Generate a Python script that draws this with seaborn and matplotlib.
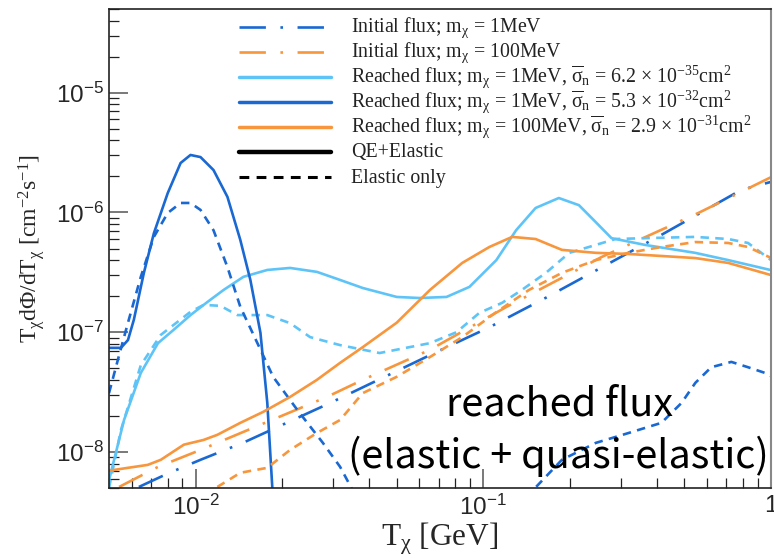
import numpy as np
import pandas as pd
import matplotlib
matplotlib.use("Agg")
import matplotlib.pyplot as plt
import seaborn as sns
from matplotlib.ticker import LogLocator, FuncFormatter, NullFormatter
from matplotlib.lines import Line2D

# ---------------- data ----------------
# Initial flux, m_chi = 1 MeV
init1_x = [0.00635, 0.0080, 0.0104, 0.0147, 0.0294, 0.0667, 0.105, 0.165, 0.416, 0.787, 1.0]
init1_y = [5.1e-9, 6.6e-9, 8.6e-9, 1.2e-8, 2.57e-8, 6.6e-8, 1.1e-7, 1.94e-7, 6.5e-7, 1.54e-6, 1.8e-6]

# Initial flux, m_chi = 100 MeV
init100_x = [0.00542, 0.0074, 0.0104, 0.01465, 0.0286, 0.0381, 0.065, 0.12, 0.258, 0.559, 1.0]
init100_y = [5.1e-9, 7.5e-9, 1.04e-8, 1.47e-8, 2.88e-8, 4.0e-8, 7.1e-8, 1.62e-7, 4.25e-7, 9.9e-7, 1.97e-6]

# Reached flux, 1 MeV, sigma = 6.2e-35 (QE+Elastic)
lb_x = [0.0050, 0.00564, 0.00645, 0.0074, 0.0084, 0.0096, 0.011, 0.0125, 0.01466, 0.01775,
        0.0213, 0.0264, 0.0318, 0.0381, 0.050, 0.060, 0.0745, 0.0895, 0.111, 0.130,
        0.152, 0.183, 0.215, 0.246, 0.279, 0.366, 0.545, 0.71, 1.0]
lb_y = [5.8e-9, 1.85e-8, 4.57e-8, 8.1e-8, 1.05e-7, 1.39e-7, 1.79e-7, 2.25e-7, 2.9e-7, 3.31e-7,
        3.44e-7, 3.19e-7, 2.73e-7, 2.34e-7, 1.97e-7, 1.93e-7, 1.97e-7, 2.39e-7, 4.0e-7, 7.1e-7,
        1.09e-6, 1.32e-6, 1.15e-6, 8.3e-7, 6.1e-7, 5.35e-7, 4.6e-7, 4.0e-7, 3.3e-7]

# Reached flux, 1 MeV, sigma = 6.2e-35 (Elastic only)
lbd_x = [0.0050, 0.0055, 0.00645, 0.00757, 0.0096, 0.01066, 0.0122, 0.01397, 0.01775, 0.0213,
         0.025, 0.0318, 0.0436, 0.0652, 0.0807, 0.0969, 0.1163, 0.136, 0.165, 0.199,
         0.233, 0.288, 0.366, 0.545, 0.71, 0.832, 1.0]
lbd_y = [5.0e-9, 1.52e-8, 5.3e-8, 9.5e-8, 1.48e-7, 1.69e-7, 1.66e-7, 1.39e-7, 1.39e-7, 1.19e-7,
         9.1e-8, 7.8e-8, 6.7e-8, 8.1e-8, 1.0e-7, 1.45e-7, 1.76e-7, 2.25e-7, 3.13e-7, 4.6e-7,
         5.15e-7, 6.0e-7, 6.1e-7, 6.25e-7, 6.0e-7, 5.56e-7, 4.0e-7]

# Reached flux, 1 MeV, sigma = 5.3e-32 (QE+Elastic)
db_x = [0.0050, 0.0055, 0.00582, 0.0061, 0.00661, 0.00716, 0.0080, 0.00887, 0.0096, 0.0104,
        0.01154, 0.0129, 0.0143, 0.0155, 0.0168, 0.01775, 0.01847, 0.0190]
db_y = [7.4e-8, 7.4e-8, 8.6e-8, 1.27e-7, 3.13e-7, 6.7e-7, 1.45e-6, 2.59e-6, 3.02e-6, 2.9e-6,
        2.26e-6, 1.35e-6, 5.9e-7, 2.73e-7, 9.9e-8, 2.57e-8, 5.1e-9, 3.0e-9]

# Reached flux, 1 MeV, sigma = 5.3e-32 (Elastic only) -- two visible pieces
dbd1_x = [0.0050, 0.00537, 0.00582, 0.00645, 0.00716, 0.0080, 0.00887, 0.0096, 0.0104, 0.01154,
          0.0129, 0.0143, 0.0164, 0.0186, 0.02255, 0.0277, 0.0318, 0.0358]
dbd1_y = [3.1e-8, 5.9e-8, 1.2e-7, 2.9e-7, 6.25e-7, 9.9e-7, 1.2e-6, 1.2e-6, 1.05e-6, 7.1e-7,
          3.5e-7, 1.63e-7, 8.1e-8, 4.24e-8, 2.25e-8, 1.19e-8, 7.5e-9, 4.4e-9]
dbd2_x = [0.144, 0.1525, 0.1876, 0.246, 0.32, 0.416, 0.489, 0.546, 0.62, 0.728, 0.832, 0.953, 1.0]
dbd2_y = [4.0e-9, 5.1e-9, 8.6e-9, 1.19e-8, 1.44e-8, 1.75e-8, 2.57e-8, 3.78e-8, 5.1e-8, 5.65e-8,
          5.1e-8, 4.57e-8, 4.3e-8]

# Reached flux, 100 MeV, sigma = 2.9e-31 (QE+Elastic)
or_x = [0.0050, 0.00582, 0.00682, 0.00757, 0.0091, 0.01066, 0.0119, 0.0143, 0.01717, 0.0213,
        0.0264, 0.0318, 0.0381, 0.050, 0.0652, 0.0845, 0.105, 0.126, 0.152, 0.1876,
        0.246, 0.32, 0.416, 0.546, 0.71, 1.0]
or_y = [6.97e-9, 7.37e-9, 7.8e-9, 8.6e-9, 1.15e-8, 1.26e-8, 1.39e-8, 1.75e-8, 2.16e-8, 2.88e-8,
        4.0e-8, 5.55e-8, 7.5e-8, 1.2e-7, 2.25e-7, 3.79e-7, 5.15e-7, 6.25e-7, 6.0e-7, 4.87e-7,
        4.6e-7, 4.5e-7, 4.33e-7, 4.16e-7, 3.79e-7, 3.0e-7]

# Reached flux, 100 MeV, sigma = 2.9e-31 (Elastic only)
ord_x = [0.0119, 0.0143, 0.01775, 0.0213, 0.0264, 0.0318, 0.0381, 0.050, 0.0652, 0.0845,
         0.110, 0.144, 0.1876, 0.246, 0.32, 0.416, 0.546, 0.71, 0.832, 1.0]
ord_y = [5.1e-9, 6.7e-9, 7.37e-9, 1.04e-8, 1.44e-8, 1.85e-8, 3.1e-8, 4.24e-8, 6.2e-8, 9.1e-8,
         1.45e-7, 2.25e-7, 3.13e-7, 4.0e-7, 4.6e-7, 5.15e-7, 5.66e-7, 5.56e-7, 5.15e-7, 4.17e-7]

legend_labels = [
    r"Initial flux; m$_{\mathrm{\chi}}$ = 1MeV",
    r"Initial flux; m$_{\mathrm{\chi}}$ = 100MeV",
    r"Reached flux; m$_{\mathrm{\chi}}$ = 1MeV, $\overline{\mathrm{\sigma}}_{\mathrm{n}}$ = 6.2 $\times$ 10$^{\mathrm{-35}}$cm$^{\mathrm{2}}$",
    r"Reached flux; m$_{\mathrm{\chi}}$ = 1MeV, $\overline{\mathrm{\sigma}}_{\mathrm{n}}$ = 5.3 $\times$ 10$^{\mathrm{-32}}$cm$^{\mathrm{2}}$",
    r"Reached flux; m$_{\mathrm{\chi}}$ = 100MeV, $\overline{\mathrm{\sigma}}_{\mathrm{n}}$ = 2.9 $\times$ 10$^{\mathrm{-31}}$cm$^{\mathrm{2}}$",
    "QE+Elastic",
    "Elastic only",
]
annotation_lines = ["reached flux", "(elastic + quasi-elastic)"]

# ---------------- style ----------------
sns.set_style("ticks")
plt.rcParams.update({
    "font.family": ["Liberation Sans", "DejaVu Sans"],
    "mathtext.fontset": "custom",
    "mathtext.rm": "Liberation Serif",
    "mathtext.it": "Liberation Serif:italic",
    "mathtext.bf": "Liberation Serif:bold",
    "mathtext.sf": "Liberation Sans",
})

DB = "#1a68d2"
LB = "#5ec4f7"
OR = "#f7963c"
LW = 1.9
DASHDOT = (0, (10, 5.5, 1.0, 5.5))
DASHED = (0, (3.2, 2.4))

W, H = 774, 558
fig = plt.figure(figsize=(W / 100, H / 100), dpi=100)
ax = fig.add_axes([109 / W, 1 - 488 / H, (771 - 109) / W, (488 - 9) / H])


def draw(xs, ys, color, ls, lw=LW):
    df = pd.DataFrame({"x": xs, "y": ys})
    sns.lineplot(data=df, x="x", y="y", ax=ax, color=color, linewidth=lw,
                 linestyle=ls, sort=False, estimator=None, legend=False)


draw(init1_x, init1_y, DB, DASHDOT)
draw(init100_x, init100_y, OR, DASHDOT)
draw(lbd_x, lbd_y, LB, DASHED)
draw(lb_x, lb_y, LB, "-")
draw(dbd1_x, dbd1_y, DB, DASHED)
draw(dbd2_x, dbd2_y, DB, DASHED)
draw(db_x, db_y, DB, "-")
draw(ord_x, ord_y, OR, DASHED)
draw(or_x, or_y, OR, "-")

ax.set_xscale("log")
ax.set_yscale("log")
ax.set_xlim(5e-3, 1.0)
ax.set_ylim(5e-9, 5e-5)


def fmt(v, pos):
    e = int(round(np.log10(v)))
    if e == 0:
        return r"$\mathsf{1}$"
    return r"$\mathsf{10^{%d}}$" % e


ax.xaxis.set_major_locator(LogLocator(base=10, numticks=10))
ax.yaxis.set_major_locator(LogLocator(base=10, numticks=10))
ax.xaxis.set_minor_locator(LogLocator(base=10, subs=np.arange(2, 10), numticks=20))
ax.yaxis.set_minor_locator(LogLocator(base=10, subs=np.arange(2, 10), numticks=20))
ax.xaxis.set_major_formatter(FuncFormatter(fmt))
ax.yaxis.set_major_formatter(FuncFormatter(fmt))
ax.xaxis.set_minor_formatter(NullFormatter())
ax.yaxis.set_minor_formatter(NullFormatter())
ax.tick_params(which="major", direction="in", length=14, width=1.1, color="#555555",
               labelsize=17.5, pad=5, top=False, right=False)
ax.tick_params(which="minor", direction="in", length=7, width=0.9, color="#222222",
               top=False, right=False)
ax.tick_params(axis="y", which="major", pad=4)
for s in ["left", "bottom", "top"]:
    ax.spines[s].set_color("#222222")
    ax.spines[s].set_linewidth(1.2)
ax.spines["right"].set_color("#888888")
ax.spines["right"].set_linewidth(1.5)

ax.set_xlabel(r"T$_{\mathrm{\chi}}$ [GeV]", family="Liberation Serif", fontsize=22.5, labelpad=0)
ax.set_ylabel(r"T$_{\mathrm{\chi}}$d$\mathrm{\Phi}$/dT$_{\mathrm{\chi}}$ [cm$^{\mathrm{-2}}$s$^{\mathrm{-1}}$]",
              family="Liberation Serif", fontsize=17, labelpad=6)

# ---- legend (drawn row by row for exact, uniform spacing) ----
handles = [
    dict(color=DB, lw=LW, linestyle=DASHDOT),
    dict(color=OR, lw=LW, linestyle=DASHDOT),
    dict(color=LB, lw=LW + 0.6, linestyle="-"),
    dict(color=DB, lw=LW + 0.6, linestyle="-"),
    dict(color=OR, lw=LW + 0.6, linestyle="-"),
    dict(color="black", lw=3.2, linestyle="-"),
    dict(color="black", lw=2.2, linestyle=DASHED),
]
row0, dy = 26.5, 25.1
for i, (hk, lab) in enumerate(zip(handles, legend_labels)):
    yc = row0 + i * dy
    fig.add_artist(Line2D([239 / W, 331 / W], [1 - yc / H, 1 - yc / H],
                          transform=fig.transFigure, **hk))
    fig.text(351 / W, 1 - (yc + 5.5) / H, lab, ha="left", va="baseline",
             family="Liberation Serif", fontsize=14.3, color="#222222")

fig.text(560 / W, 1 - 415 / H, annotation_lines[0], ha="center", va="baseline",
         fontsize=28.5, fontweight="light", family=["Noto Sans CJK SC", "DejaVu Sans"],
         color="black")
fig.text(558 / W, 1 - 468 / H, annotation_lines[1], ha="center", va="baseline",
         fontsize=28.5, fontweight="light", family=["Noto Sans CJK SC", "DejaVu Sans"],
         color="black")

fig.savefig("out.png", dpi=100)
